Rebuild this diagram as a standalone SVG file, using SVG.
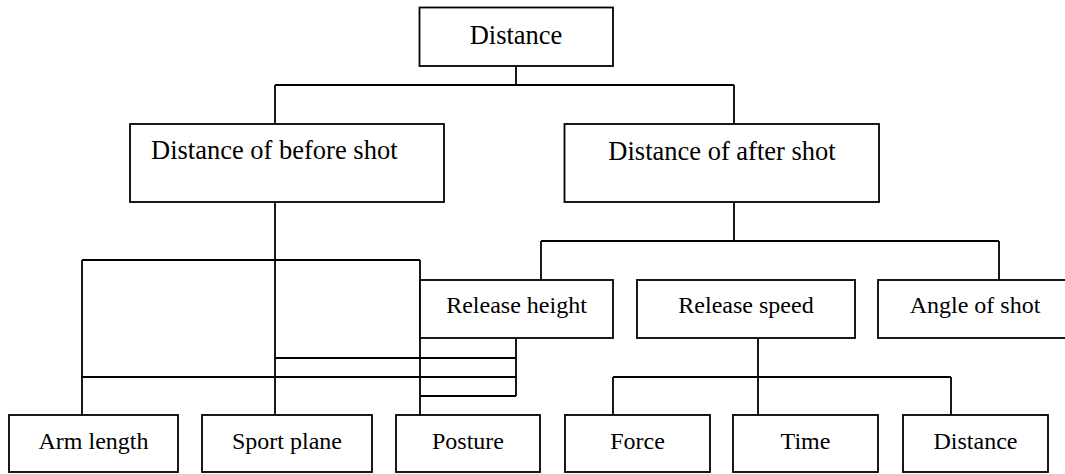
<svg xmlns="http://www.w3.org/2000/svg" width="1065" height="474" viewBox="0 0 1065 474">
<style>
.box{fill:#fff;stroke:#000;stroke-width:1.8}
.ln{fill:none;stroke:#000;stroke-width:1.8}
text{font-family:"Liberation Serif","Times New Roman",serif;fill:#000}
.big{font-size:26.5px}
.sm{font-size:24px;text-anchor:middle}
</style>
<rect width="1065" height="474" fill="#fff"/>
<g id="connectors" class="ln">
<path d="M516,66V85M275,85H734M275,85V124M734,85V124"/>
<path d="M275,202V415"/>
<path d="M82,260H420M82,260V415M420,260V415"/>
<path d="M275,358H516M82,377H516M420,396H516M516,338V396"/>
<path d="M734,202V241M541,241H999M541,241V280M999,241V280"/>
<path d="M758,338V415M613,377H951M613,377V415M951,377V415"/>
</g>
<g id="n-distance"><rect class="box" x="419.5" y="7.5" width="193.5" height="58.5"/><text class="big" x="516" y="44" text-anchor="middle">Distance</text></g>
<g id="n-before"><rect class="box" x="130" y="124" width="314" height="78"/><text class="big" x="151" y="159">Distance of before shot</text></g>
<g id="n-after"><rect class="box" x="564.5" y="124" width="314.5" height="78"/><text class="big" x="722" y="160" text-anchor="middle">Distance of after shot</text></g>
<g id="n-release-height"><rect class="box" x="420" y="280" width="193" height="58"/><text class="sm" x="516.5" y="312.5">Release height</text></g>
<g id="n-release-speed"><rect class="box" x="637" y="280" width="218" height="58"/><text class="sm" x="746" y="312.5">Release speed</text></g>
<g id="n-angle"><rect class="box" x="878" y="280" width="197" height="58"/><text class="sm" x="975" y="312.5">Angle of shot</text></g>
<g id="n-arm"><rect class="box" x="9" y="415" width="169" height="57"/><text class="sm" x="93.5" y="448.5">Arm length</text></g>
<g id="n-sport"><rect class="box" x="202" y="415" width="170" height="57"/><text class="sm" x="287" y="448.5">Sport plane</text></g>
<g id="n-posture"><rect class="box" x="396" y="415" width="144" height="57"/><text class="sm" x="468" y="448.5">Posture</text></g>
<g id="n-force"><rect class="box" x="565" y="415" width="145" height="57"/><text class="sm" x="637.5" y="448.5">Force</text></g>
<g id="n-time"><rect class="box" x="733" y="415" width="145" height="57"/><text class="sm" x="805.5" y="448.5">Time</text></g>
<g id="n-distance2"><rect class="box" x="903" y="415" width="145" height="57"/><text class="sm" x="975.5" y="448.5">Distance</text></g>
</svg>
